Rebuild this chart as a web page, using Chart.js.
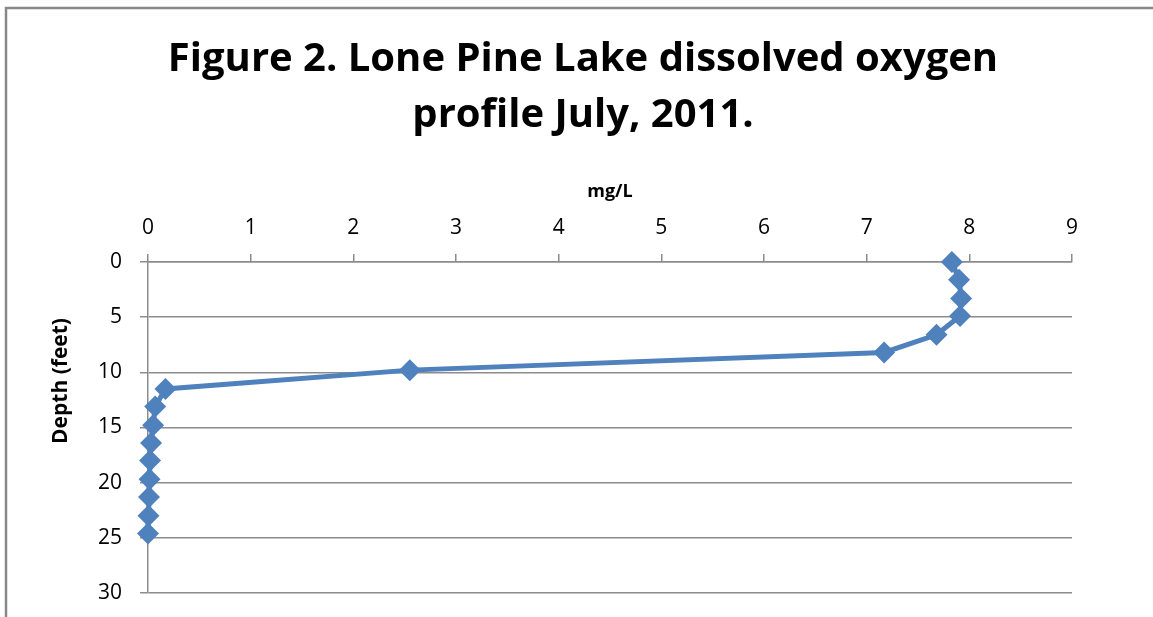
<!DOCTYPE html>
<html>
<head>
<meta charset="utf-8">
<script src="https://cdn.jsdelivr.net/npm/chart.js@4"></script>
<style>
  html, body { margin:0; padding:0; background:#fff; }
  #wrap { width:1153px; height:617px; position:relative; }
</style>
</head>
<body>
<div id="wrap"><canvas id="chart" width="1153" height="617"></canvas></div>
<script>
//--------------------------------------------------
// DATA (depth in feet, DO in mg/L)
//--------------------------------------------------
const depthFt = [0, 1.6, 3.3, 4.9, 6.6, 8.2, 9.8, 11.5, 13.1, 14.8, 16.4, 18.0, 19.7, 21.3, 23.0, 24.6];
const oxygenMgL = [7.83, 7.9, 7.92, 7.91, 7.68, 7.17, 2.55, 0.17, 0.07, 0.05, 0.03, 0.02, 0.015, 0.01, 0.005, 0];
const titleLines = ["Figure 2. Lone Pine Lake dissolved oxygen", "profile July, 2011."];
const xTitle = "mg/L";
const yTitle = "Depth (feet)";
const xMin = 0, xMax = 9, xStep = 1;
const yMin = 0, yMax = 30, yStep = 5;

const FONT = "'Open Sans', sans-serif";
const GRID = "#8c8c8c";

const points = depthFt.map((d, i) => ({ x: oxygenMgL[i], y: d }));

// frame around the chart + rotated y title placed like the original
const extras = {
  id: "extras",
  beforeDraw(c){
    const ctx = c.ctx;
    ctx.save();
    ctx.strokeStyle = "#888";
    ctx.lineWidth = 2.5;
    ctx.beginPath();
    ctx.moveTo(6, 617);
    ctx.lineTo(6, 8);
    ctx.lineTo(1153, 8);
    ctx.stroke();
    ctx.restore();
  },
  afterDraw(c){
    const ctx = c.ctx;
    ctx.save();
    ctx.translate(61, 381);
    ctx.rotate(-Math.PI / 2);
    ctx.font = "bold 21px " + FONT;
    ctx.fillStyle = "#000";
    ctx.textAlign = "center";
    ctx.textBaseline = "middle";
    ctx.fillText(yTitle, 0, 0);
    ctx.restore();
  }
};

new Chart(document.getElementById("chart"), {
  type: "scatter",
  data: {
    datasets: [{
      data: points,
      showLine: true,
      clip: false,
      borderColor: "#4f81bd",
      backgroundColor: "#4f81bd",
      borderWidth: 5,
      pointStyle: "rectRot",
      pointRadius: 11,
      pointBorderWidth: 0,
      tension: 0
    }]
  },
  options: {
    responsive: false,
    animation: false,
    layout: { autoPadding: false, padding: { left: 94, right: 81, top: 0, bottom: 24 } },
    plugins: {
      legend: { display: false },
      tooltip: { enabled: false },
      title: {
        display: true,
        text: titleLines,
        color: "#000",
        font: { family: FONT, size: 40, weight: "bold", lineHeight: 1.4 },
        padding: { top: 32, bottom: 0 }
      }
    },
    scales: {
      x: {
        type: "linear",
        position: "top",
        min: xMin, max: xMax,
        ticks: { stepSize: xStep, color: "#000", padding: 13, font: { family: FONT, size: 21 } },
        grid: { drawOnChartArea: false, drawTicks: true, tickLength: 8, color: GRID, lineWidth: 1.5 },
        border: { display: true, color: GRID, width: 1.5 },
        title: { display: true, text: xTitle, color: "#000", font: { family: FONT, size: 18, weight: "bold" }, padding: { top: 37, bottom: 0 } },
        afterFit(s){ s.height = 118; }
      },
      y: {
        type: "linear",
        reverse: true,
        min: yMin, max: yMax,
        ticks: { stepSize: yStep, color: "#000", padding: 18, font: { family: FONT, size: 21 } },
        grid: { color: GRID, lineWidth: 1.5, tickLength: 8 },
        border: { display: true, color: GRID, width: 1.5 },
        // fixed width; drop the label overhang so the layout padding decides the bottom
        afterFit(s){ s.width = 54; s.paddingTop = 0; s.paddingBottom = 0; }
      }
    }
  },
  plugins: [extras]
});
</script>
</body>
</html>
